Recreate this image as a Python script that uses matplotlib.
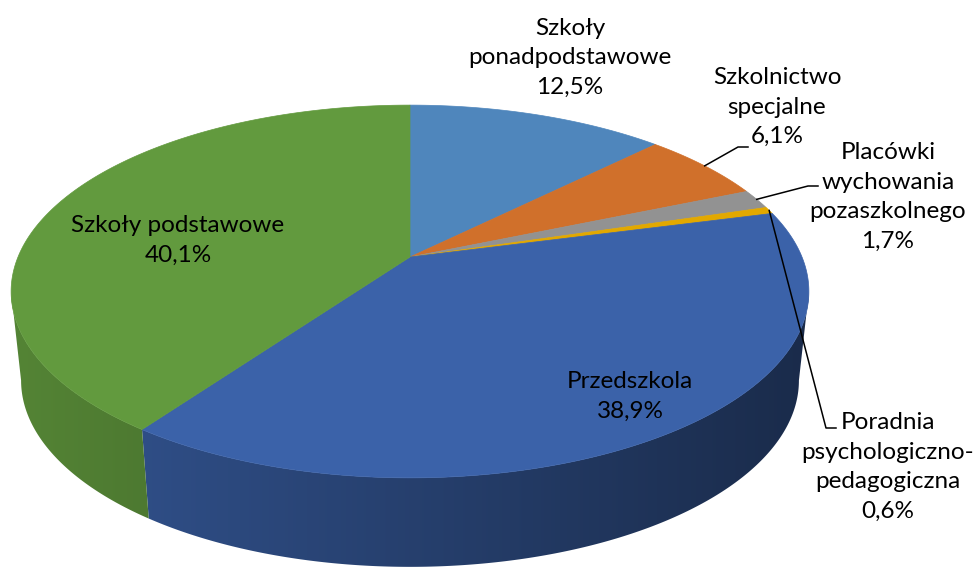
"""3D pie chart: struktura wydatków na oświatę."""

import numpy as np
import matplotlib
matplotlib.use("Agg")
import matplotlib.pyplot as plt
from matplotlib.patches import Polygon

# data, clockwise from 12 o'clock
labels = ["Szkoły\nponadpodstawowe", "Szkolnictwo\nspecjalne",
          "Placówki\nwychowania\npozaszkolnego",
          "Poradnia\npsychologiczno-\npedagogiczna",
          "Przedszkola", "Szkoły podstawowe"]
values = [12.5, 6.1, 1.7, 0.6, 38.9, 40.1]
pct_text = ["12,5%", "6,1%", "1,7%", "0,6%", "38,9%", "40,1%"]
colors = ["#4F86BC", "#D0702B", "#929292", "#E2A800", "#3B62A9", "#629A3E"]

# label placement (pixel coords) and leader line ends
label_pos = [(570, 58), (777, 107), (888, 197), (888, 467), (630, 396), (178, 240)]
leader_end = [None, (748, 147), (818, 186), (836, 428), None, None]

# projection of the pie (pixels)
CX, CY = 410, 257          # apex of slices
A, B, P = 392, 180, 0.185  # horiz scale, vert scale, perspective
DEPTH = 89
BOT_SCALE = 0.975


def project(phi, bottom=False):
    u, v = np.sin(phi), -np.cos(phi)
    w = 1 - P * v
    s = BOT_SCALE if bottom else 1.0
    x = CX + s * A * u / w
    y = CY + B * v / w + (DEPTH if bottom else 0)
    return x, y


fig = plt.figure(figsize=(9.79, 5.70), dpi=100)
ax = fig.add_axes([0, 0, 1, 1])

total = sum(values)
bounds = np.concatenate([[0], np.cumsum(values)]) / total * 2 * np.pi

# visible part of the side: between the left and right silhouette
vis_lo = np.pi - np.arccos(P)
vis_hi = np.pi + np.arccos(P)

# side walls: one polygon per slice filled with a left-to-right darkening
xs = np.arange(0, 980)
fac = np.clip(0.86 - 0.42 * (xs - 10) / 800, 0.3, 1)
for i, col in enumerate(colors):
    lo, hi = max(bounds[i], vis_lo), min(bounds[i + 1], vis_hi)
    if hi <= lo:
        continue
    phis = np.linspace(lo, hi, 200)
    top = [project(p) for p in phis]
    bot = [project(p, True) for p in phis[::-1]]
    wall = Polygon(top + bot, closed=True, facecolor="none", edgecolor="none")
    ax.add_patch(wall)
    rgb = np.array(matplotlib.colors.to_rgb(col))
    grad = (fac[None, :, None] * rgb[None, None, :]).repeat(2, axis=0)
    im = ax.imshow(grad, extent=(0, 980, 570, 0), aspect="auto",
                   interpolation="bilinear", zorder=2)
    im.set_clip_path(wall)

# top faces
for i, col in enumerate(colors):
    phis = np.linspace(bounds[i], bounds[i + 1], max(4, int(values[i] * 10)))
    pts = [(CX, CY)] + [project(p) for p in phis]
    ax.add_patch(Polygon(pts, closed=True, facecolor=col, edgecolor=col,
                         lw=0.5, zorder=3))

ax.set_xlim(0, 979)
ax.set_ylim(570, 0)
ax.axis("off")

# labels
font = dict(family=["Lato", "DejaVu Sans"], fontsize=17.5, color="black")
for i in range(len(values)):
    tx, ty = label_pos[i]
    ax.text(tx, ty, labels[i] + "\n" + pct_text[i], ha="center", va="center",
            linespacing=1.52, zorder=5, **font)
    if leader_end[i] is not None:
        mid = (bounds[i] + bounds[i + 1]) / 2
        sx, sy = project(mid)
        ex, ey = leader_end[i]
        ax.plot([sx, ex - 10, ex], [sy, ey, ey], color="black", lw=1.1, zorder=4)

fig.savefig("out.png", dpi=100)
